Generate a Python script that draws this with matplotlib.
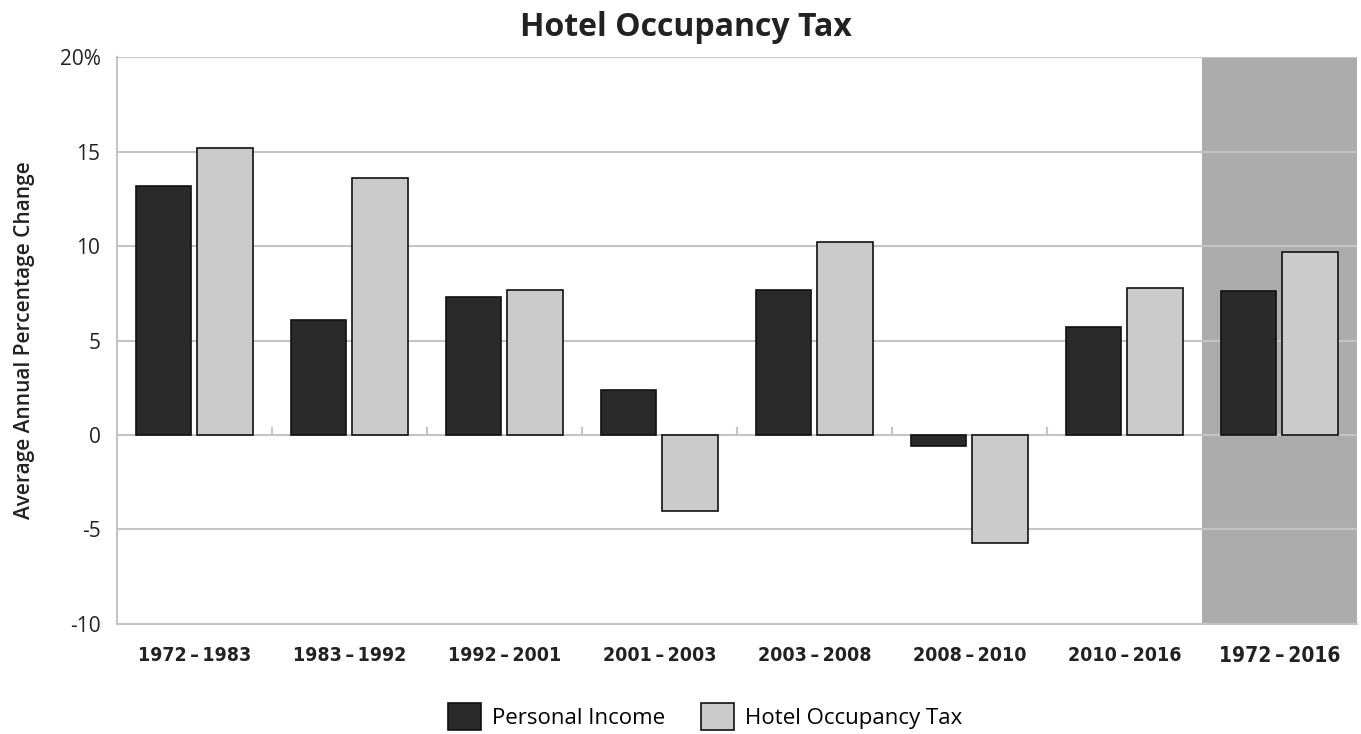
import numpy as np
import matplotlib.pyplot as plt

periods = ["1972\u2009\u2013\u20091983", "1983\u2009\u2013\u20091992", "1992\u2009\u2013\u20092001",
           "2001\u2009\u2013\u20092003", "2003\u2009\u2013\u20092008", "2008\u2009\u2013\u20092010",
           "2010\u2009\u2013\u20092016", "1972\u2009\u2013\u20092016"]
personal_income = [13.2, 6.1, 7.3, 2.4, 7.7, -0.6, 5.7, 7.6]
hotel_tax = [15.2, 13.6, 7.7, -4.0, 10.2, -5.7, 7.8, 9.7]
yticks = [-10, -5, 0, 5, 10, 15, 20]
ytick_labels = ["-10", "-5", "0", "5", "10", "15", "20%"]

dark = "#2a2a2a"
light = "#cbcbcb"
grid = "#c4c4c4"

fig = plt.figure(figsize=(13.61, 7.34), dpi=100)
ax = fig.add_axes([0.086, 0.150, 0.911, 0.772])

x = np.arange(len(periods))
w = 0.36
ax.axvspan(6.5, 7.5, color="#acacac", zorder=0, lw=0)
for y in yticks:
    ax.axhline(y, color=grid, lw=1.5, zorder=1)

ax.bar(x - 0.2, personal_income, w, color=dark, edgecolor="#111111", lw=1.2,
       zorder=3, label="Personal Income")
ax.bar(x + 0.195, hotel_tax, w, color=light, edgecolor="#111111", lw=1.2,
       zorder=3, label="Hotel Occupancy Tax")

# small separators on the zero line between periods
ax.vlines(x[:-2] + 0.5, 0, 0.45, color=grid, lw=1.5, zorder=2)

ax.set_xlim(-0.5, 7.5)
ax.set_ylim(-10, 20)
ax.set_yticks(yticks)
ax.set_yticklabels(ytick_labels, fontsize=15, family="Open Sans", color="#222222")
ax.set_xticks(x)
ax.set_xticklabels(periods, fontsize=14, family="DejaVu Sans", fontstretch="condensed",
                   fontweight="bold", color="#222222")
ax.get_xticklabels()[-1].set_fontsize(15)
ax.tick_params(length=0)
ax.tick_params(axis="x", pad=16)
ax.tick_params(axis="y", pad=12)
for s in ["top", "right"]:
    ax.spines[s].set_visible(False)
for s in ["left", "bottom"]:
    ax.spines[s].set_color(grid)
    ax.spines[s].set_linewidth(1.5)

ax.set_ylabel("Average Annual Percentage Change", fontsize=15, family="Open Sans",
              fontweight="semibold", color="#222222", labelpad=18)
fig.text(0.504, 0.962, "Hotel Occupancy Tax", ha="center", va="center",
         fontsize=23, family="Open Sans", fontweight="bold", color="#222222")

fig.legend(loc="center", bbox_to_anchor=(0.518, 0.024), ncol=2, frameon=False,
           prop={"family": "Open Sans", "size": 16}, handlelength=1.5,
           handleheight=1.5, columnspacing=1.6, handletextpad=0.5)

fig.savefig("out.png", dpi=100, facecolor="white")
